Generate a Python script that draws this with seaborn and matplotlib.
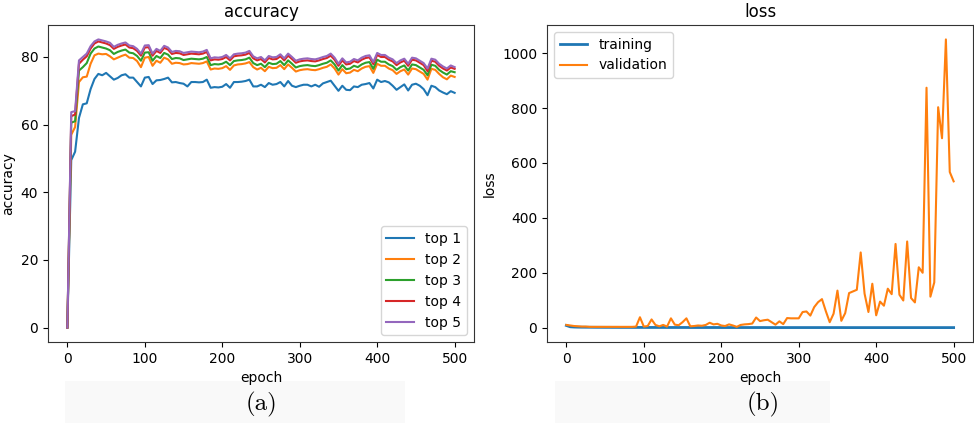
import matplotlib
matplotlib.use("Agg")
import matplotlib.pyplot as plt
from matplotlib.patches import Rectangle
import seaborn as sns

epochs = list(range(0, 501, 5))

top1 = [0, 49.5, 52.0, 62.0, 66.0, 66.3, 70.5, 73.5, 75.0, 74.6, 75.3, 74.3, 73.3, 73.8, 74.6, 74.9, 73.9, 73.9, 72.6, 71.3,
        73.9, 74.1, 72.0, 73.1, 73.2, 73.5, 73.9, 72.5, 72.6, 72.3, 72.1, 71.3, 72.6, 72.6, 72.5, 72.6, 73.3, 70.9, 71.1, 71.0,
        71.2, 72.0, 70.9, 72.6, 72.6, 72.7, 72.9, 73.3, 71.3, 71.3, 71.8, 71.1, 72.3, 71.8, 72.0, 72.6, 71.3, 72.9, 71.5, 71.1,
        71.5, 71.8, 71.8, 71.3, 71.8, 71.2, 72.2, 72.6, 73.0, 71.5, 70.0, 71.5, 70.3, 70.2, 71.3, 71.1, 71.8, 72.0, 72.3, 70.7,
        73.3, 72.6, 72.9, 72.5, 71.5, 70.3, 71.1, 71.9, 70.1, 71.8, 72.1, 71.5, 70.5, 68.7, 71.5, 71.1, 70.1, 69.5, 69.0, 69.9,
        69.4]

top2 = [0, 57.0, 59.3, 72.6, 74.0, 74.2, 78.0, 80.5, 81.0, 80.8, 80.9, 80.2, 79.3, 79.8, 80.3, 80.7, 79.8, 79.7, 78.8, 77.0,
        79.8, 80.0, 77.4, 78.9, 78.3, 79.8, 79.3, 78.0, 78.3, 78.2, 77.8, 77.9, 78.2, 78.1, 78.0, 78.2, 78.7, 76.3, 76.6, 76.5,
        76.7, 77.3, 76.2, 77.5, 77.8, 77.9, 78.1, 78.5, 77.0, 76.3, 76.8, 75.8, 77.1, 76.7, 76.8, 77.6, 76.4, 77.8, 76.8, 75.7,
        76.1, 76.3, 76.4, 76.2, 76.1, 76.4, 76.8, 77.1, 77.8, 76.6, 74.8, 76.4, 75.2, 75.4, 76.2, 75.8, 76.6, 77.1, 77.3, 75.3,
        78.0, 77.4, 77.4, 76.6, 76.1, 75.0, 75.8, 76.3, 74.8, 76.6, 76.4, 75.7, 75.0, 73.3, 76.5, 76.2, 75.0, 74.0, 73.4, 74.5,
        74.1]

top3 = [0, 60.6, 61.0, 76.0, 77.0, 78.2, 81.0, 82.5, 83.1, 82.8, 82.5, 82.0, 80.9, 81.5, 81.9, 82.2, 81.3, 81.1, 80.3, 78.9,
        81.3, 81.4, 78.9, 80.3, 79.7, 81.2, 80.7, 79.4, 79.7, 79.6, 79.1, 79.3, 79.5, 79.4, 79.3, 79.5, 80.0, 77.6, 77.9, 77.8,
        78.0, 78.6, 77.6, 78.8, 79.0, 79.1, 79.3, 79.8, 78.2, 77.6, 78.0, 77.0, 78.3, 77.9, 78.0, 78.8, 77.6, 79.0, 78.0, 76.9,
        77.3, 77.5, 77.6, 77.4, 77.3, 77.6, 78.0, 78.3, 79.0, 77.8, 76.0, 77.6, 76.4, 76.6, 77.4, 77.0, 77.8, 78.3, 78.5, 76.5,
        79.2, 78.6, 78.6, 77.8, 77.3, 76.2, 77.0, 77.5, 76.0, 77.8, 77.6, 76.9, 76.2, 74.6, 77.7, 77.4, 76.2, 75.4, 74.8, 75.8,
        75.5]

top4 = [0, 62.5, 63.0, 78.0, 79.2, 80.2, 82.5, 84.0, 84.6, 84.3, 84.0, 83.5, 82.4, 83.0, 83.4, 83.7, 82.8, 82.6, 81.8, 80.4,
        82.8, 82.9, 80.4, 81.8, 81.2, 82.7, 82.2, 80.9, 81.2, 81.1, 80.6, 80.8, 81.0, 80.9, 80.8, 81.0, 81.5, 79.0, 79.3, 79.2,
        79.4, 80.0, 79.0, 80.2, 80.4, 80.5, 80.7, 81.2, 79.6, 79.0, 79.4, 78.4, 79.7, 79.3, 79.4, 80.2, 79.0, 80.4, 79.4, 78.3,
        78.7, 78.9, 79.0, 78.8, 78.7, 79.0, 79.4, 79.7, 80.4, 79.2, 77.4, 79.0, 77.8, 78.0, 78.8, 78.4, 79.2, 79.7, 79.9, 77.9,
        80.6, 80.0, 80.0, 79.2, 78.7, 77.6, 78.4, 78.9, 77.4, 79.2, 79.0, 78.3, 77.6, 75.8, 78.9, 78.6, 77.4, 76.6, 76.0, 76.9,
        76.5]

top5 = [0, 63.7, 64.0, 79.0, 80.0, 81.0, 83.2, 84.6, 85.2, 84.9, 84.6, 84.2, 83.0, 83.6, 84.0, 84.3, 83.4, 83.2, 82.4, 81.0,
        83.4, 83.5, 81.0, 82.4, 81.8, 83.3, 82.8, 81.5, 81.8, 81.7, 81.2, 81.4, 81.6, 81.5, 81.4, 81.6, 82.1, 79.6, 79.9, 79.8,
        80.0, 80.6, 79.6, 80.8, 81.0, 81.1, 81.3, 81.8, 80.2, 79.6, 80.0, 79.0, 80.3, 79.9, 80.0, 80.8, 79.6, 81.0, 80.0, 78.9,
        79.3, 79.5, 79.6, 79.4, 79.3, 79.6, 80.0, 80.3, 81.0, 79.8, 78.0, 79.6, 78.4, 78.6, 79.4, 79.0, 79.8, 80.3, 80.5, 78.5,
        81.2, 80.6, 80.6, 79.8, 79.3, 78.2, 79.0, 79.5, 78.0, 79.8, 79.6, 78.9, 78.2, 76.6, 79.5, 79.2, 78.0, 77.2, 76.6, 77.5,
        77.0]

train_loss = [8.0, 3.2, 2.3, 1.9, 1.7, 1.6, 1.5, 1.4, 1.3, 1.3, 1.2, 1.2, 1.1, 1.1, 1.0, 1.0, 1.0, 0.9, 0.9, 0.9,
              0.9, 0.8, 0.8, 0.8, 0.8, 0.8, 0.7, 0.7, 0.7, 0.7, 0.7, 0.7, 0.6, 0.6, 0.6, 0.6, 0.6, 0.6, 0.6, 0.6,
              0.5, 0.5, 0.5, 0.5, 0.5, 0.5, 0.5, 0.5, 0.5, 0.5, 0.5, 0.5, 0.4, 0.4, 0.4, 0.4, 0.4, 0.4, 0.4, 0.4,
              0.4, 0.4, 0.4, 0.4, 0.4, 0.4, 0.4, 0.4, 0.4, 0.4, 0.4, 0.4, 0.3, 0.3, 0.3, 0.3, 0.3, 0.3, 0.3, 0.3,
              0.3, 0.3, 0.3, 0.3, 0.3, 0.3, 0.3, 0.3, 0.3, 0.3, 0.3, 0.3, 0.3, 0.3, 0.3, 0.3, 0.3, 0.3, 0.3, 0.3,
              0.3]

val_loss = [10, 8, 6, 5, 4, 4, 3, 3, 3, 3, 3, 3, 3, 3, 3, 3, 3, 3, 4, 38,
            4, 6, 30, 10, 5, 10, 4, 34, 11, 9, 20, 34, 5, 6, 8, 7, 10, 18, 12, 14,
            8, 6, 12, 8, 3, 10, 12, 13, 15, 37, 24, 27, 29, 20, 11, 23, 13, 35, 34, 34,
            34, 57, 59, 44, 75, 93, 104, 60, 20, 51, 135, 25, 53, 126, 132, 138, 274, 124, 57, 160,
            45, 95, 80, 142, 122, 305, 120, 99, 314, 108, 92, 220, 200, 874, 113, 165, 803, 690, 1050, 567,
            533]

acc_labels = ["top 1", "top 2", "top 3", "top 4", "top 5"]
loss_labels = ["training", "validation"]

plt.rcParams["font.family"] = ["DejaVu Sans"]
plt.rcParams["font.size"] = 10

colors = sns.color_palette("tab10")

fig = plt.figure(figsize=(9.74, 4.23), dpi=100)
fig.patch.set_facecolor("white")

# faint scan bands behind the subfigure labels
fig.patches.append(Rectangle((65 / 974, 0), 340 / 974, 42 / 423, transform=fig.transFigure,
                             facecolor="#f9f9f9", edgecolor="none", zorder=-10))
fig.patches.append(Rectangle((555 / 974, 0), 275 / 974, 42 / 423, transform=fig.transFigure,
                             facecolor="#f9f9f9", edgecolor="none", zorder=-10))

ax1 = fig.add_axes([48 / 974, 1 - 342 / 423, 426 / 974, 317 / 423])
ax2 = fig.add_axes([547 / 974, 1 - 342 / 423, 426 / 974, 317 / 423])

acc_series = [top1, top2, top3, top4, top5]
for i, (lab, ser) in enumerate(zip(acc_labels, acc_series)):
    sns.lineplot(x=epochs, y=ser, ax=ax1, color=colors[i], linewidth=1.5, label=lab)

sns.lineplot(x=epochs, y=train_loss, ax=ax2, color=colors[0], linewidth=2.0, label=loss_labels[0])
sns.lineplot(x=epochs, y=val_loss, ax=ax2, color=colors[1], linewidth=1.5, label=loss_labels[1])

ax1.set_title("accuracy")
ax1.set_xlabel("epoch")
ax1.set_ylabel("accuracy")
ax1.set_xticks([0, 100, 200, 300, 400, 500])
ax1.set_yticks([0, 20, 40, 60, 80])
ax1.legend(loc="lower right")

ax2.set_title("loss")
ax2.set_xlabel("epoch")
ax2.set_ylabel("loss")
ax2.set_xticks([0, 100, 200, 300, 400, 500])
ax2.set_yticks([0, 200, 400, 600, 800, 1000])
ax2.legend(loc="upper left")

for ax in (ax1, ax2):
    for s in ax.spines.values():
        s.set_color("#333333")

fig.text(262 / 974, 1 - 404 / 423, "(a)", family="cmr10", fontsize=18, ha="center", va="center")
fig.text(763 / 974, 1 - 404 / 423, "(b)", family="cmr10", fontsize=18, ha="center", va="center")

fig.savefig("out.png", dpi=100)
